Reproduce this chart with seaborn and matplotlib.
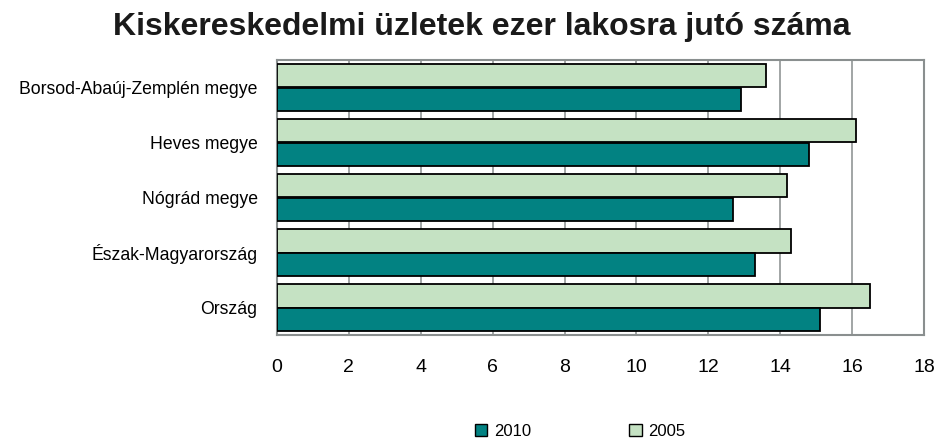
import seaborn as sns
import matplotlib.pyplot as plt
import pandas as pd
from matplotlib.patches import Patch
from matplotlib.ticker import MultipleLocator, FixedLocator

# Adatok (leolvasva az ábráról)
teruletek = ['Borsod-Abaúj-Zemplén megye', 'Heves megye', 'Nógrád megye',
             'Észak-Magyarország', 'Ország']
ertek_2005 = [13.6, 16.1, 14.2, 14.3, 16.5]
ertek_2010 = [12.9, 14.8, 12.7, 13.3, 15.1]
evek = ['2005', '2010']
szinek = {'2005': '#c5e2c3', '2010': '#028282'}

df = pd.DataFrame({
    'terulet': teruletek * 2,
    'ev': ['2005'] * 5 + ['2010'] * 5,
    'ertek': ertek_2005 + ertek_2010,
})

sns.set_style('white')
plt.rcParams['font.family'] = ['Liberation Sans', 'DejaVu Sans']
plt.rcParams['text.color'] = 'black'
plt.rcParams['xtick.labelcolor'] = 'black'
plt.rcParams['ytick.labelcolor'] = 'black'

fig = plt.figure(figsize=(9.4, 4.43), dpi=100)
ax = fig.add_axes([277 / 940, 1 - 335 / 443, (924 - 277) / 940, (335 - 60) / 443])

sns.barplot(data=df, y='terulet', x='ertek', hue='ev', hue_order=evek,
            palette=szinek, orient='h', width=0.84, edgecolor='black',
            linewidth=1.3, saturation=1, legend=False, ax=ax, zorder=3)

ax.set_xlim(0, 18)
ax.set_ylim(4.5, -0.5)
ax.xaxis.set_major_locator(MultipleLocator(2))
ax.grid(axis='x', color='#9a9e9e', linewidth=1.3, zorder=0)
ax.set_axisbelow(True)
for s in ax.spines.values():
    s.set_color('#8a8f8f')
    s.set_linewidth(1.5)

ax.set_xlabel('')
ax.set_ylabel('')
ax.tick_params(axis='x', which='major', direction='out', length=4, width=1,
               color='#8a8f8f', pad=13, labelsize=14)
ax.tick_params(axis='y', which='major', length=0, pad=14, labelsize=12.7)
ax.yaxis.set_minor_locator(FixedLocator([-0.5, 0.5, 1.5, 2.5, 3.5, 4.5]))
ax.tick_params(axis='y', which='minor', direction='out', length=5, width=1,
               color='#8a8f8f')

fig.text(482 / 940, 1 - 27 / 443, 'Kiskereskedelmi üzletek ezer lakosra jutó száma',
         ha='center', va='center', fontsize=23, fontweight='bold', color='#1a1a1a')

kezelok = [Patch(facecolor=szinek['2010'], edgecolor='black', label='2010'),
           Patch(facecolor=szinek['2005'], edgecolor='black', label='2005')]
fig.legend(handles=kezelok, loc='center', bbox_to_anchor=(580 / 940, 1 - 431 / 443),
           ncol=2, frameon=False, fontsize=12, handlelength=0.75, handleheight=0.75,
           handletextpad=0.4, columnspacing=5.9)

fig.savefig('out.png', dpi=100)
